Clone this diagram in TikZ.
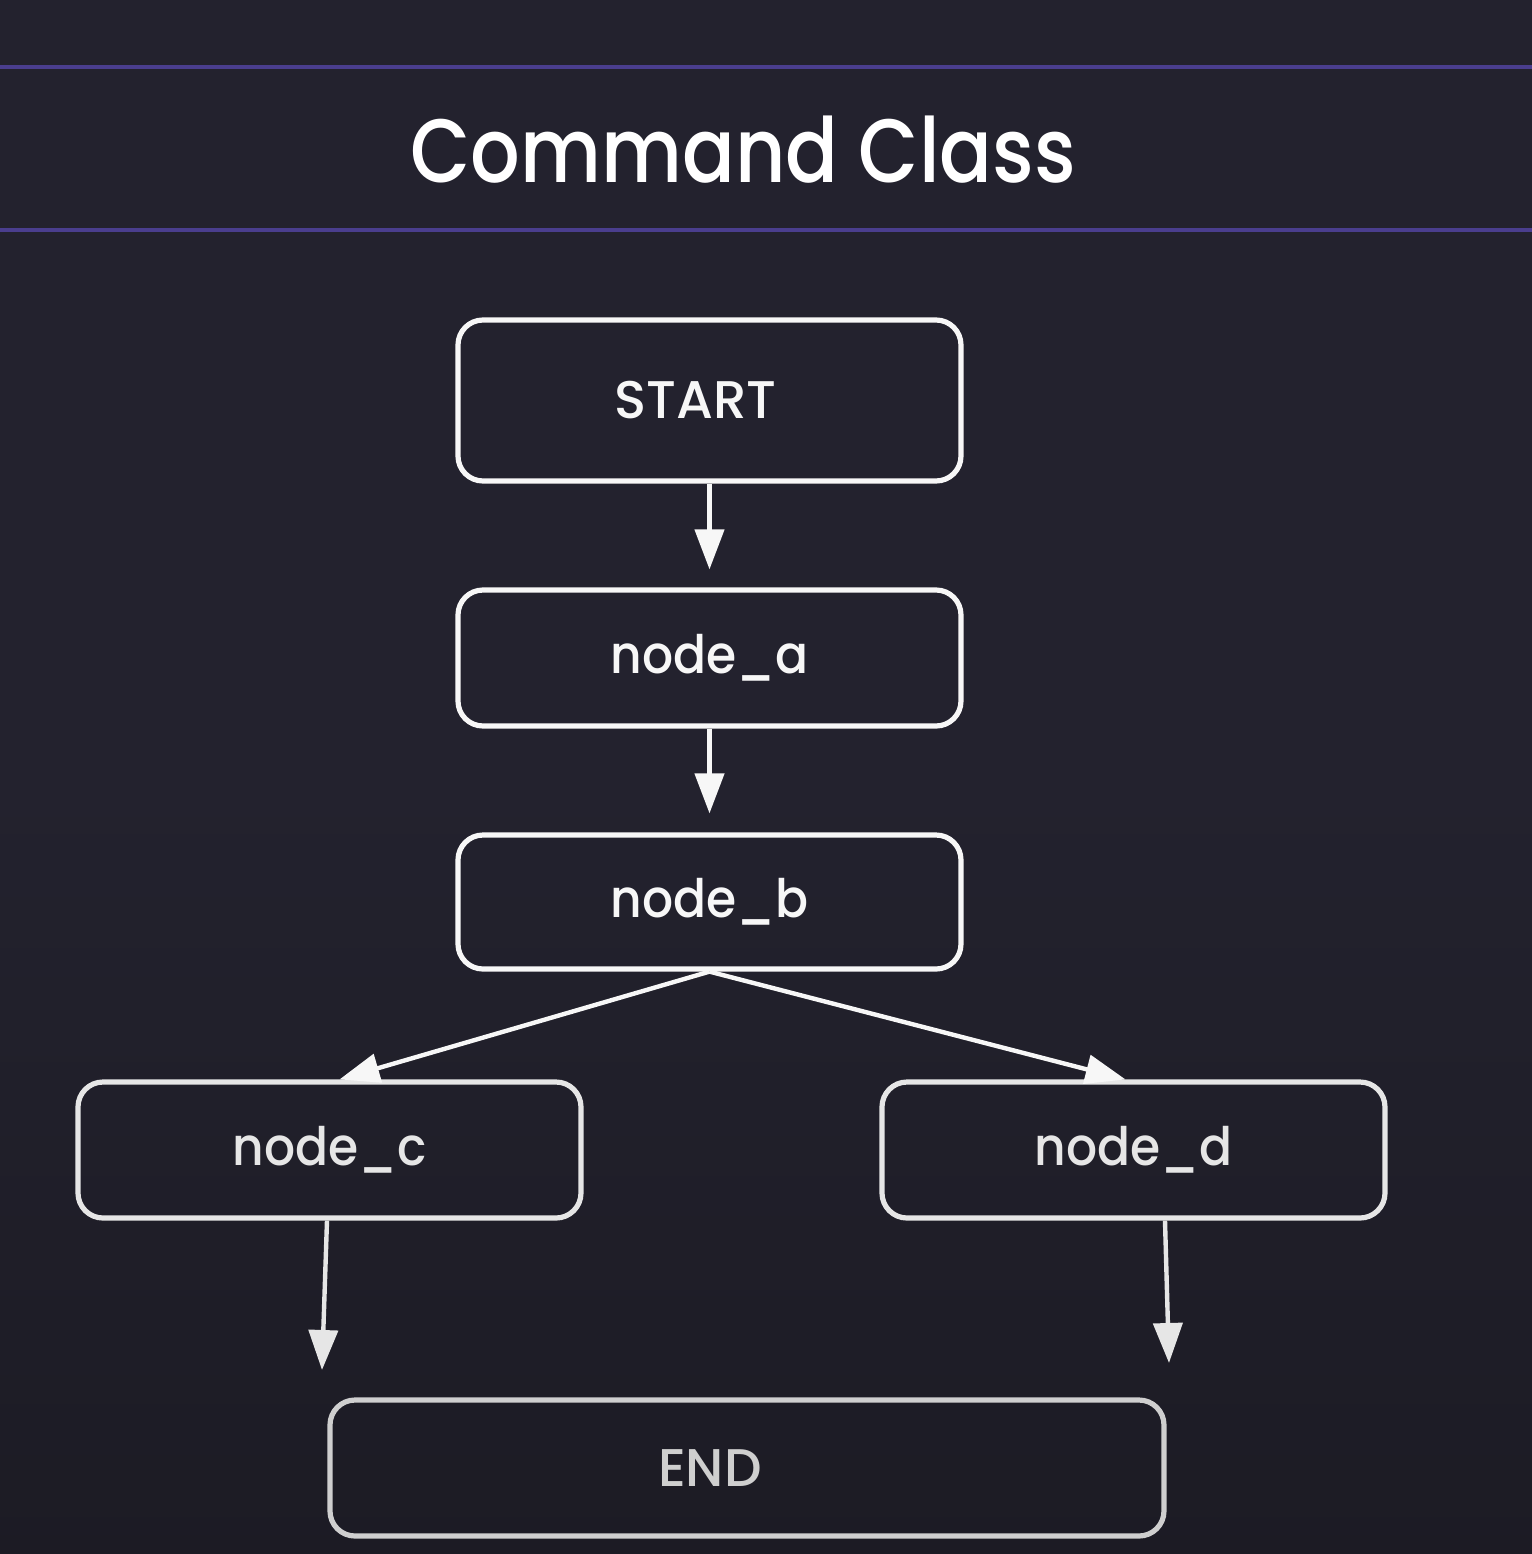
\documentclass[tikz,border=0pt]{standalone}
\usepackage{fontspec}
\setmainfont{Poppins}
\newfontfamily\titlefont{Poppins Medium}
\newfontfamily\boxfont{Poppins Medium}
\usetikzlibrary{arrows.meta}
\definecolor{bg}{HTML}{23222E}
\definecolor{bgdark}{HTML}{1C1B24}
\definecolor{rule}{HTML}{4A3E8E}
\definecolor{strokeA}{HTML}{F7F7F7}
\definecolor{strokeB}{HTML}{E6E6E6}
\definecolor{strokeC}{HTML}{CFCFCF}
\newcommand{\narrow}[2]{\scalebox{#1}[1]{#2}}
\tikzset{
  flowbox/.style={draw=strokeA, line width=2.6pt, rounded corners=12.5pt, minimum width=251.5pt, inner sep=0pt, text=strokeA, font=\boxfont\fontsize{26.5}{30}\selectfont},
  lbl/.style={text=strokeA, font=\boxfont\fontsize{26.5}{30}\selectfont, inner sep=0pt},
  flowarrow/.style={draw=strokeA, line width=2.2pt, -{Triangle[width=14.5pt,length=20pt]}},
}
\begin{document}
\begin{tikzpicture}[x=0.5pt,y=-0.5pt]
  \useasboundingbox (0,0) rectangle (1532,1554);
  \fill[bg] (-20,-20) rectangle (1552,1574);
  \shade[top color=bg, bottom color=bgdark, middle color=bg] (-20,-20) rectangle (1552,1574);
  \coordinate (rl1) at (-20,67);   \coordinate (rr1) at (1552,67);
  \coordinate (rl2) at (-20,230);  \coordinate (rr2) at (1552,230);
  \draw[rule, line width=1.6pt] (rl1) -- (rr1);
  \draw[rule, line width=1.6pt] (rl2) -- (rr2);
  \node[text=white, font=\titlefont\fontsize{45}{50}\selectfont, inner sep=0pt] (title) at (743,150) {\narrow{0.866}{Command Class}};

  \node[flowbox, minimum height=80.5pt, label={[lbl, xshift=-7pt]center:START}] (start) at (709.5,400.5) {};
  \node[flowbox, minimum height=68pt] (nodea) at (709.5,658) {\narrow{0.92}{node\_a}};
  \node[flowbox, minimum height=67pt] (nodeb) at (709.5,902) {\narrow{0.92}{node\_b}};
  \node[flowbox, draw=strokeB, text=strokeB, minimum height=68pt] (nodec) at (329.5,1150) {\narrow{0.92}{node\_c}};
  \node[flowbox, draw=strokeB, text=strokeB, minimum height=68pt] (noded) at (1133.5,1150) {\narrow{0.92}{node\_d}};
  \node[flowbox, draw=strokeC, minimum width=417pt, minimum height=68pt, label={[lbl, text=strokeC, xshift=-18.5pt]center:END}] (endn) at (747,1468) {};

  \coordinate (ec) at (322,1370);
  \coordinate (ed) at (1169,1363);

  \draw[flowarrow, shorten >=9pt] (start.south) -- (nodea.north);
  \draw[flowarrow, shorten >=9.5pt] (nodea.south) -- (nodeb.north);
  \draw[flowarrow] (nodeb.south) -- ([xshift=5pt]nodec.north);
  \draw[flowarrow] (nodeb.south) -- ([xshift=-4pt]noded.north);
  \draw[flowarrow, draw=strokeB] ([xshift=-1.25pt]nodec.south) -- (ec);
  \draw[flowarrow, draw=strokeB] ([xshift=15.75pt]noded.south) -- (ed);
\end{tikzpicture}
\end{document}
